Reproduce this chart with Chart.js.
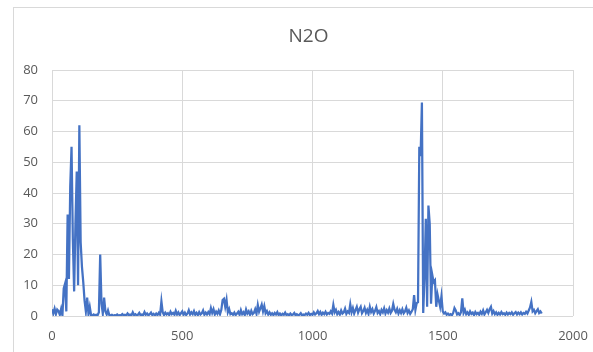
<!DOCTYPE html>
<html>
<head>
<meta charset="utf-8">
<script src="https://cdn.jsdelivr.net/npm/chart.js@4/dist/chart.umd.min.js"></script>
<style>
  html, body { margin: 0; padding: 0; background: #ffffff; }
  #wrap { position: relative; width: 593px; height: 352px; }
  canvas { display: block; }
</style>
</head>
<body>
<div id="wrap"><canvas id="c" width="593" height="352"></canvas></div>
<script>
// Sample spacing along the x axis (one reading every 5 units, starting at 0)
const SAMPLE_STEP = 5;

// N2O readings, 0 .. 1880
const n2o = [
  2.2, 0.8, 2.4, 0.6, 2.1, 1.6, 0.4, 2.3, 0.2, 9.0, 10.5, 1.5, 33, 12, 42, 55, 25, 8, 30, 47,
  10, 62, 24, 16, 11, 5, 1.5, 6, 0.6, 3, 0.3, 0.2, 0.5, 0.2, 0.4, 0.2, 1.2, 20, 4, 0.8,
  6, 1.5, 0.5, 1.8, 0.3, 0.2, 0.4, 0.1, 0.3, 0.2, 0.5, 0.1, 0.3, 0.2, 0.6, 0.2, 0.4, 0.1, 0.8, 0.3,
  0.5, 0.2, 1.2, 0.3, 0.6, 0.2, 0.4, 1.0, 0.2, 0.5, 0.3, 1.3, 0.4, 0.8, 0.2, 0.6, 1.1, 0.3, 0.7, 0.2,
  0.8, 0.3, 1.0, 0.4, 4.8, 1.2, 0.3, 1.1, 0.5, 0.9, 0.3, 1.4, 0.6, 1.0, 0.4, 1.7, 0.5, 1.2, 0.3, 0.9,
  1.5, 0.4, 1.1, 0.3, 0.8, 1.9, 0.5, 1.2, 0.6, 1.6, 0.4, 1.0, 0.3, 1.3, 0.5, 0.9, 1.8, 0.4, 1.1, 0.5,
  1.3, 0.6, 2.6, 1.0, 2.2, 0.5, 1.4, 0.7, 1.8, 0.6, 2.0, 5.2, 5.6, 3.0, 5.3, 1.2, 2.3, 0.6, 0.9, 0.4,
  1.1, 0.3, 0.8, 1.4, 0.4, 1.9, 0.6, 1.2, 0.3, 2.1, 0.8, 1.5, 0.4, 1.7, 0.6, 1.0, 2.2, 0.7, 3.6, 1.4,
  2.5, 3.7, 1.5, 3.2, 0.9, 1.6, 0.5, 1.2, 0.4, 0.9, 0.3, 1.0, 0.5, 1.3, 0.3, 0.8, 0.2, 0.7, 0.4, 1.1,
  0.3, 0.6, 0.2, 0.8, 0.3, 0.5, 1.0, 0.2, 0.6, 0.3, 0.4, 0.9, 0.2, 0.5, 0.3, 0.8, 0.4, 1.0, 0.3, 0.7,
  0.4, 1.2, 0.5, 0.9, 1.6, 0.6, 1.3, 0.4, 1.1, 0.6, 1.4, 0.5, 1.0, 0.7, 1.5, 0.8, 3.6, 1.2, 2.0, 0.6,
  1.3, 0.5, 1.8, 0.8, 1.2, 2.4, 0.7, 1.5, 1.0, 3.8, 1.2, 2.6, 0.8, 1.9, 3.0, 1.1, 2.2, 3.0, 0.9, 1.6,
  2.7, 1.0, 2.0, 0.7, 3.0, 1.3, 2.2, 0.8, 1.7, 2.9, 1.0, 1.6, 0.6, 2.0, 1.2, 2.5, 0.8, 1.9, 1.1, 2.4,
  1.0, 1.7, 3.9, 2.0, 1.2, 2.3, 0.8, 1.9, 1.0, 2.2, 0.9, 1.5, 2.7, 1.0, 1.8, 0.7, 1.4, 2.2, 6.8, 2.0,
  4.2, 4.5, 55, 52, 69.4, 1, 12.7, 31.6, 3, 35.9, 30, 4, 13.3, 11, 11.6, 3, 7, 5, 3, 6.4,
  1.5, 0.8, 1.2, 0.4, 0.8, 0.3, 0.6, 0.2, 1.0, 2.6, 1.8, 0.5, 0.9, 0.3, 1.2, 5.7, 1.0, 2.0, 0.6, 1.2,
  0.4, 1.5, 0.7, 1.1, 0.3, 1.3, 0.6, 1.0, 0.4, 1.4, 0.7, 1.8, 0.5, 1.2, 2.0, 1.0, 2.2, 3.0, 0.8, 1.6,
  0.6, 1.2, 0.4, 1.0, 0.5, 1.3, 0.6, 0.9, 0.4, 1.1, 0.5, 1.0, 0.6, 1.2, 0.4, 0.9, 1.3, 0.5, 1.1, 0.6,
  1.2, 0.5, 1.0, 0.7, 1.4, 0.8, 1.8, 2.8, 4.6, 1.5, 2.0, 0.9, 1.6, 2.2, 1.0, 1.5, 0.8
];

// Axis ranges and tick spacing
const xRange = [0, 2000];
const xTickStep = 500;
const yRange = [0, 80];
const yTickStep = 10;

const titleText = 'N2O';

const points = n2o.map((v, i) => ({ x: i * SAMPLE_STEP, y: v }));

const textColor = '#595959';
const gridColor = '#d9d9d9';
const fontFamily = '"Open Sans", "Liberation Sans", sans-serif';

// White panel with a light outer frame, plus the title centred over the plot area
const framePlugin = {
  id: 'frame',
  beforeDraw(chart) {
    const ctx = chart.ctx;
    ctx.save();
    ctx.fillStyle = '#ffffff';
    ctx.fillRect(0, 0, chart.width, chart.height);
    ctx.strokeStyle = '#d9d9d9';
    ctx.lineWidth = 1;
    ctx.strokeRect(13.5, 7.5, chart.width + 20, chart.height + 20);
    ctx.restore();
  },
  afterDraw(chart) {
    const ctx = chart.ctx;
    const area = chart.chartArea;
    ctx.save();
    ctx.fillStyle = textColor;
    ctx.font = '19px ' + fontFamily;
    ctx.textAlign = 'center';
    ctx.textBaseline = 'middle';
    ctx.fillText(titleText, (area.left + area.right) / 2 - 4, 37);
    ctx.restore();
  }
};

new Chart(document.getElementById('c'), {
  type: 'line',
  data: {
    datasets: [{
      label: titleText,
      data: points,
      borderColor: '#4472C4',
      borderWidth: 2.25,
      pointRadius: 0,
      tension: 0,
      fill: false
    }]
  },
  options: {
    responsive: false,
    animation: false,
    devicePixelRatio: 1,
    layout: { padding: { left: 0, right: 20, top: 70, bottom: 8 } },
    plugins: {
      legend: { display: false },
      tooltip: { enabled: false },
      title: { display: false }
    },
    scales: {
      x: {
        type: 'linear',
        min: xRange[0],
        max: xRange[1],
        afterFit(scale) {
          scale.height = 28;
          scale.paddingLeft = 0;
          scale.paddingRight = 0;
        },
        ticks: {
          stepSize: xTickStep,
          color: textColor,
          padding: 12,
          maxRotation: 0,
          font: { family: fontFamily, size: 13 },
          callback: (v) => String(v)
        },
        grid: { color: gridColor, lineWidth: 1, drawTicks: false },
        border: { display: false }
      },
      y: {
        min: yRange[0],
        max: yRange[1],
        afterFit(scale) { scale.width = 52; },
        ticks: {
          stepSize: yTickStep,
          color: textColor,
          padding: 14,
          font: { family: fontFamily, size: 13 }
        },
        grid: { color: gridColor, lineWidth: 1, drawTicks: false },
        border: { display: false }
      }
    }
  },
  plugins: [framePlugin]
});
</script>
</body>
</html>
